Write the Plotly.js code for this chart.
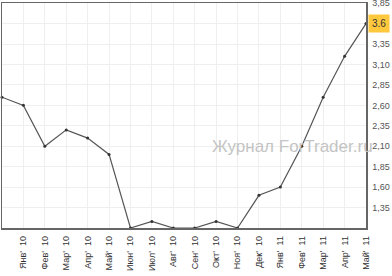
<!DOCTYPE html>
<html>
<head>
<meta charset="utf-8">
<script src="https://cdn.plot.ly/plotly-3.0.1.min.js"></script>
<style>html,body{margin:0;padding:0;background:#fff}#chart{width:392px;height:276px}</style>
</head>
<body>
<div id="chart"></div>
<script>
// Month labels (first point is unlabeled)
const monthLabels = ["Янв'\u00a0\u00a010","Фев'\u00a0\u00a010","Мар'\u00a0\u00a010","Апр'\u00a0\u00a010","Май'\u00a0\u00a010","Июн'\u00a0\u00a010","Июл'\u00a0\u00a010","Авг'\u00a0\u00a010","Сен'\u00a0\u00a010","Окт'\u00a0\u00a010","Ноя'\u00a0\u00a010","Дек'\u00a0\u00a010","Янв'\u00a0\u00a011","Фев'\u00a0\u00a011","Мар'\u00a0\u00a011","Апр'\u00a0\u00a011","Май'\u00a0\u00a011"];
const values = [2.70, 2.60, 2.10, 2.30, 2.20, 2.00, 1.10, 1.18, 1.10, 1.10, 1.18, 1.10, 1.50, 1.60, 2.10, 2.70, 3.20, 3.60];
const yTickVals = [1.35, 1.60, 1.85, 2.10, 2.35, 2.60, 2.85, 3.10, 3.35, 3.60, 3.85];
const yTickText = ["1,35","1,60","1,85","2,10","2,35","2,60","2,85","3,10","3,35","","3,85"];
const lastLabel = "3.6";
const watermark = "Журнал ForTrader.ru";

const xs = values.map((v, i) => i);
const xTickVals = monthLabels.map((m, i) => i + 1);

const trace = {
  x: xs, y: values, type: 'scatter', mode: 'lines+markers',
  line: {color: '#555555', width: 1.2},
  marker: {color: '#333333', size: 3},
  cliponaxis: false, hoverinfo: 'none'
};

const layout = {
  width: 392, height: 276,
  margin: {l: 2, r: 26, t: 3, b: 48, pad: 0},
  paper_bgcolor: '#ffffff', plot_bgcolor: '#ffffff',
  showlegend: false,
  font: {family: 'Liberation Sans, Arial, sans-serif'},
  xaxis: {
    range: [0, 17], tickvals: xTickVals, ticktext: monthLabels,
    tickangle: -90, tickfont: {size: 9, color: '#333333'},
    showgrid: true, gridcolor: '#efefef', gridwidth: 1,
    showline: true, linecolor: '#666666', linewidth: 1.5, mirror: true,
    ticks: 'outside', ticklen: 3, tickcolor: '#ffffff', zeroline: false, fixedrange: true
  },
  yaxis: {
    side: 'right', range: [1.10, 3.852],
    tickvals: yTickVals, ticktext: yTickText,
    tickfont: {size: 9, color: '#555555'},
    ticklabeloverflow: 'allow',
    showgrid: true, gridcolor: '#efefef', gridwidth: 1,
    showline: true, linecolor: '#666666', linewidth: 1.5, mirror: true,
    ticks: 'outside', ticklen: 3, tickcolor: '#ffffff',
    zeroline: false, fixedrange: true
  },
  annotations: [
    {xref: 'paper', yref: 'y', x: 1, y: values[values.length - 1], xanchor: 'left', yanchor: 'middle',
     xshift: 2, text: lastLabel, showarrow: false, bgcolor: '#FFC83D', borderpad: 3,
     font: {size: 10, color: '#333333'}},
    {xref: 'paper', yref: 'y', x: 0.571, y: 2.10, xanchor: 'left', yanchor: 'middle',
     text: watermark, showarrow: false, font: {size: 17, color: '#c4c4c4'}}
  ]
};

Plotly.newPlot('chart', [trace], layout, {staticPlot: true, displayModeBar: false});
</script>
</body>
</html>
